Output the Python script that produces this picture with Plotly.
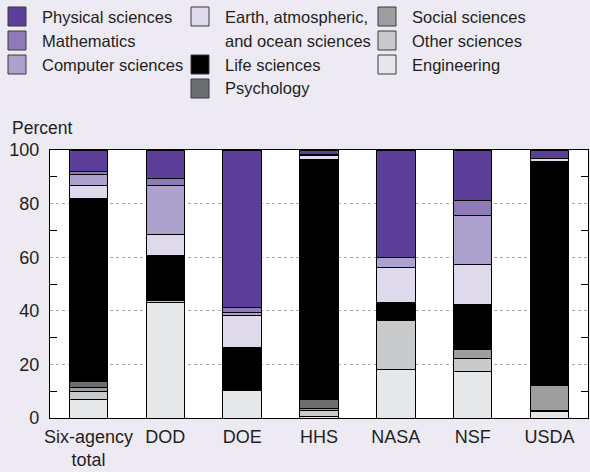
import plotly.graph_objects as go

# ---- data -------------------------------------------------------------
categories = ["Six-agency<br>total", "DOD", "DOE", "HHS", "NASA", "NSF", "USDA"]

engineering = [7.0, 43.0, 10.4, 0.7, 18.2, 17.5, 2.4]
other_sci   = [3.0, 0.7, 0.0, 2.0, 18.2, 4.8, 0.3]
social_sci  = [1.2, 0.4, 0.0, 0.9, 0.0, 3.3, 9.3]
psychology  = [2.3, 0.6, 0.0, 3.4, 0.0, 0.0, 0.3]
life_sci    = [68.3, 16.0, 15.8, 89.3, 6.6, 16.9, 83.3]
earth_sci   = [5.0, 7.9, 12.0, 1.6, 13.3, 14.7, 1.3]
computer_sci = [4.0, 18.1, 1.2, 0.5, 3.7, 18.2, 0.0]
mathematics = [1.0, 2.5, 1.9, 0.0, 0.0, 5.6, 0.0]
physical_sci = [8.2, 10.8, 58.7, 1.6, 40.0, 19.0, 3.1]

series_names = [
    "Engineering", "Other sciences", "Social sciences", "Psychology",
    "Life sciences", "Earth, atmospheric,<br>and ocean sciences",
    "Computer sciences", "Mathematics", "Physical sciences",
]
series_values = [engineering, other_sci, social_sci, psychology, life_sci,
                 earth_sci, computer_sci, mathematics, physical_sci]
series_colors = ["#E6E7E8", "#C9CACB", "#9D9E9F", "#6D6E70", "#000000",
                 "#DEDAEC", "#ADA1CD", "#8F7AB8", "#5B3F98"]

y_tick_vals = [0, 20, 40, 60, 80, 100]

# ---- layout constants --------------------------------------------------
W, H = 590, 472
ML, MR, MT, MB = 50, 2, 150, 54
PW, PH = W - ML - MR, H - MT - MB
BG = "#EDEAF4"
TXT = "#231F20"
FONT = "Liberation Sans, Arial, Helvetica, sans-serif"


def px_x(px):
    return (px - ML) / PW


def px_y(py):
    return (H - MB - py) / PH


fig = go.Figure()
for name, vals, col in zip(series_names, series_values, series_colors):
    fig.add_trace(go.Bar(
        x=categories,
        y=[v if v > 0 else None for v in vals],
        name=name,
        marker=dict(color=col, line=dict(color="#000000", width=1)),
        width=0.5,
        showlegend=False,
    ))

# ---- custom legend (3 columns) ----------------------------------------
legend_slots = {  # name -> (column x of square, row)
    "Physical sciences": (8, 0),
    "Mathematics": (8, 1),
    "Computer sciences": (8, 2),
    "Earth, atmospheric,<br>and ocean sciences": (191, 0),
    "Life sciences": (191, 2),
    "Psychology": (191, 3),
    "Social sciences": (378, 0),
    "Other sciences": (378, 1),
    "Engineering": (378, 2),
}
row_y = [16.5, 40.5, 64.5, 88.5]
shapes = []
annotations = []
for name, col in zip(series_names, series_colors):
    sx, row = legend_slots[name]
    cy = row_y[row]
    shapes.append(dict(
        type="rect", xref="paper", yref="paper",
        x0=px_x(sx), x1=px_x(sx + 18), y0=px_y(cy - 9.5), y1=px_y(cy + 9.5),
        fillcolor=col, line=dict(color="#3A3A3A", width=1), layer="above",
    ))
    for i, line in enumerate(name.split("<br>")):
        annotations.append(dict(
            text=line, xref="paper", yref="paper",
            x=px_x(sx + 32), y=px_y(cy + 24 * i), xanchor="left", yanchor="middle",
            showarrow=False, font=dict(size=16.5, color=TXT, family=FONT),
        ))

annotations.append(dict(
    text="Percent", xref="paper", yref="paper", x=px_x(10), y=px_y(128),
    xanchor="left", yanchor="middle", showarrow=False,
    font=dict(size=17.5, color=TXT, family=FONT),
))

fig.update_layout(
    width=W, height=H,
    margin=dict(l=ML, r=MR, t=MT, b=MB, pad=0),
    paper_bgcolor=BG, plot_bgcolor="#FFFFFF",
    barmode="stack", bargap=0.5,
    font=dict(family=FONT, size=18, color=TXT),
    shapes=shapes, annotations=annotations,
    showlegend=False,
)
fig.update_xaxes(
    showline=True, linecolor="#000000", linewidth=1.2, mirror=True,
    ticks="", showgrid=False, range=[-0.5, 6.5],
    tickfont=dict(size=18, color=TXT), ticklabelstandoff=2,
)
fig.update_yaxes(
    range=[0, 100], tickvals=y_tick_vals, ticks="inside", ticklen=0,
    showline=True, linecolor="#000000", linewidth=1.2, mirror="ticks",
    showgrid=True, gridcolor="#A8A8A8", griddash="3px,3px", gridwidth=1,
    zeroline=False,
    minor=dict(ticks="inside", ticklen=7, tickcolor="#000000", tick0=10,
               dtick=20, showgrid=False),
    tickfont=dict(size=18, color=TXT), ticklabelstandoff=6,
)

fig.write_html(
    "out.html",
    config={"displayModeBar": False},
    post_script=("document.body.style.margin='0';"
                 "document.body.style.padding='0';"
                 "document.body.style.overflow='hidden';"
                 "document.body.style.background='" + BG + "';"),
)
